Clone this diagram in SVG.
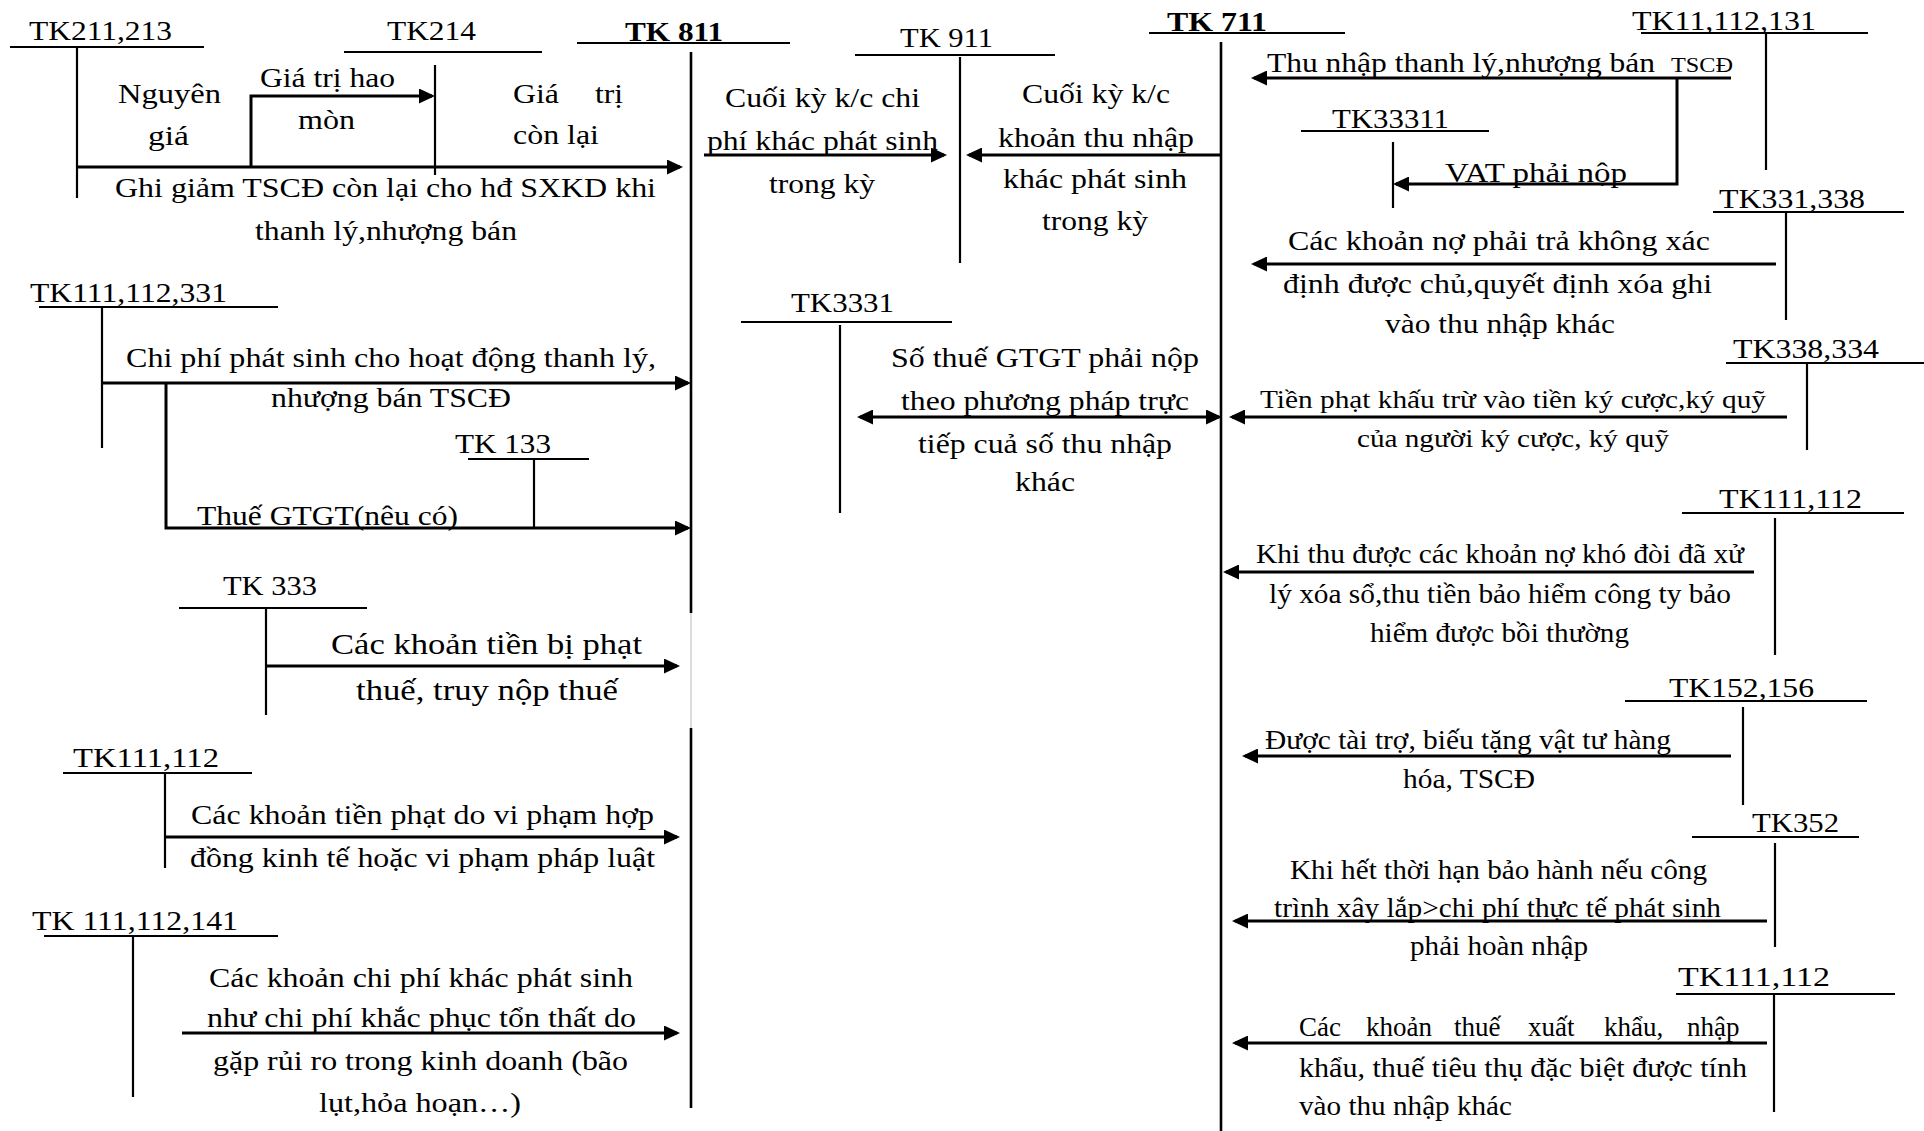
<svg xmlns="http://www.w3.org/2000/svg" width="1924" height="1131" viewBox="0 0 1924 1131">
  <defs>
    <marker id="arr" markerUnits="userSpaceOnUse" markerWidth="16" markerHeight="15" refX="13" refY="7.5" orient="auto-start-reverse">
      <path d="M0,0 L16,7.5 L0,15 z" fill="#000"/>
    </marker>
    <style>
      text { font-family: "Liberation Serif", "Times New Roman", serif; font-size: 27px; fill: #000; }
      .s { font-size: 25px; }
      .l { font-size: 30px; }
      .sm { font-size: 20px; }
      .b { font-weight: bold; }
      .acc { stroke: #000; stroke-width: 2.2; fill: none; }
      .main { stroke: #000; stroke-width: 2.6; fill: none; }
      .flow { stroke: #000; stroke-width: 3; fill: none; marker-end: url(#arr); }
    </style>
  </defs>
  <rect width="1924" height="1131" fill="#fff"/>

  <!-- main accounts -->
  <g id="tk811">
    <text class="b" x="625" y="41" textLength="98" lengthAdjust="spacingAndGlyphs">TK 811</text>
    <line class="acc" x1="577" y1="43" x2="790" y2="43"/>
    <line class="main" x1="691" y1="52" x2="691" y2="613"/>
    <line stroke="#bbb" stroke-width="1" x1="691" y1="613" x2="691" y2="728"/>
    <line class="main" x1="691" y1="728" x2="691" y2="1108"/>
  </g>
  <g id="tk911">
    <text x="900" y="47" textLength="93" lengthAdjust="spacingAndGlyphs">TK 911</text>
    <line class="acc" x1="855" y1="55" x2="1055" y2="55"/>
    <line class="acc" x1="960" y1="57" x2="960" y2="263"/>
  </g>
  <g id="tk711">
    <text class="b" x="1167" y="31" textLength="100" lengthAdjust="spacingAndGlyphs">TK 711</text>
    <line class="acc" x1="1149" y1="33" x2="1345" y2="33"/>
    <line class="main" x1="1221" y1="42" x2="1221" y2="1131"/>
  </g>

  <!-- left side accounts -->
  <g id="tk211">
    <text x="29" y="40" textLength="143" lengthAdjust="spacingAndGlyphs">TK211,213</text>
    <line class="acc" x1="10" y1="47" x2="204" y2="47"/>
    <line class="acc" x1="77" y1="47" x2="77" y2="198"/>
  </g>
  <g id="tk214">
    <text x="387" y="40" textLength="89" lengthAdjust="spacingAndGlyphs">TK214</text>
    <line class="acc" x1="344" y1="52" x2="542" y2="52"/>
    <line class="acc" x1="435" y1="65" x2="435" y2="175"/>
  </g>
  <g id="tk111-112-331">
    <text x="30" y="302" textLength="197" lengthAdjust="spacingAndGlyphs">TK111,112,331</text>
    <line class="acc" x1="39" y1="307" x2="278" y2="307"/>
    <line class="acc" x1="102" y1="307" x2="102" y2="448"/>
  </g>
  <g id="tk133">
    <text x="455" y="453" textLength="96" lengthAdjust="spacingAndGlyphs">TK 133</text>
    <line class="acc" x1="468" y1="459" x2="589" y2="459"/>
    <line class="acc" x1="534" y1="459" x2="534" y2="528"/>
  </g>
  <g id="tk333">
    <text x="223" y="595" textLength="94" lengthAdjust="spacingAndGlyphs">TK 333</text>
    <line class="acc" x1="179" y1="608" x2="367" y2="608"/>
    <line class="acc" x1="266" y1="608" x2="266" y2="715"/>
  </g>
  <g id="tk111-112-left">
    <text x="73" y="767" textLength="146" lengthAdjust="spacingAndGlyphs">TK111,112</text>
    <line class="acc" x1="63" y1="773" x2="252" y2="773"/>
    <line class="acc" x1="165" y1="773" x2="165" y2="868"/>
  </g>
  <g id="tk111-112-141">
    <text x="32" y="930" textLength="206" lengthAdjust="spacingAndGlyphs">TK 111,112,141</text>
    <line class="acc" x1="44" y1="936" x2="278" y2="936"/>
    <line class="acc" x1="133" y1="936" x2="133" y2="1097"/>
  </g>
  <g id="tk3331">
    <text x="791" y="312" textLength="103" lengthAdjust="spacingAndGlyphs">TK3331</text>
    <line class="acc" x1="741" y1="322" x2="952" y2="322"/>
    <line class="acc" x1="840" y1="325" x2="840" y2="513"/>
  </g>

  <!-- right side accounts -->
  <g id="tk11-112-131">
    <text x="1632" y="30" textLength="184" lengthAdjust="spacingAndGlyphs">TK11,112,131</text>
    <line class="acc" x1="1641" y1="33" x2="1868" y2="33"/>
    <line class="acc" x1="1766" y1="33" x2="1766" y2="170"/>
  </g>
  <g id="tk33311">
    <text x="1332" y="128" textLength="117" lengthAdjust="spacingAndGlyphs">TK33311</text>
    <line class="acc" x1="1301" y1="131" x2="1489" y2="131"/>
    <line class="acc" x1="1393" y1="142" x2="1393" y2="208"/>
  </g>
  <g id="tk331-338">
    <text x="1719" y="208" textLength="146" lengthAdjust="spacingAndGlyphs">TK331,338</text>
    <line class="acc" x1="1713" y1="212" x2="1904" y2="212"/>
    <line class="acc" x1="1786" y1="212" x2="1786" y2="320"/>
  </g>
  <g id="tk338-334">
    <text x="1733" y="358" textLength="146" lengthAdjust="spacingAndGlyphs">TK338,334</text>
    <line class="acc" x1="1726" y1="363" x2="1924" y2="363"/>
    <line class="acc" x1="1807" y1="363" x2="1807" y2="450"/>
  </g>
  <g id="tk111-112-r1">
    <text x="1719" y="508" textLength="143" lengthAdjust="spacingAndGlyphs">TK111,112</text>
    <line class="acc" x1="1682" y1="513" x2="1904" y2="513"/>
    <line class="acc" x1="1775" y1="518" x2="1775" y2="655"/>
  </g>
  <g id="tk152-156">
    <text x="1669" y="697" textLength="145" lengthAdjust="spacingAndGlyphs">TK152,156</text>
    <line class="acc" x1="1625" y1="701" x2="1867" y2="701"/>
    <line class="acc" x1="1743" y1="707" x2="1743" y2="805"/>
  </g>
  <g id="tk352">
    <text x="1752" y="832" textLength="87" lengthAdjust="spacingAndGlyphs">TK352</text>
    <line class="acc" x1="1692" y1="837" x2="1859" y2="837"/>
    <line class="acc" x1="1775" y1="843" x2="1775" y2="947"/>
  </g>
  <g id="tk111-112-r2">
    <text x="1678" y="986" textLength="152" lengthAdjust="spacingAndGlyphs">TK111,112</text>
    <line class="acc" x1="1676" y1="994" x2="1895" y2="994"/>
    <line class="acc" x1="1774" y1="994" x2="1774" y2="1112"/>
  </g>

  <!-- entries -->
  <g id="connectors">
    <line class="flow" x1="77" y1="167" x2="680" y2="167"/>
    <polyline class="flow" points="251,167 251,96 432,96"/>
    <line class="flow" x1="704" y1="155" x2="944" y2="155"/>
    <line class="flow" x1="1221" y1="155" x2="969" y2="155"/>
    <line class="flow" x1="1731" y1="78" x2="1254" y2="78"/>
    <polyline class="flow" points="1677,78 1677,184 1396,184"/>
    <line class="flow" x1="1776" y1="264" x2="1254" y2="264"/>
    <line class="flow" x1="860" y1="417" x2="1219" y2="417" marker-start="url(#arr)"/>
    <line class="flow" x1="1787" y1="417" x2="1232" y2="417"/>
    <line class="flow" x1="1754" y1="572" x2="1226" y2="572"/>
    <line class="flow" x1="1731" y1="756" x2="1245" y2="756"/>
    <line class="flow" x1="1767" y1="921" x2="1235" y2="921"/>
    <line class="flow" x1="1767" y1="1043" x2="1235" y2="1043"/>
    <line class="flow" x1="102" y1="383" x2="688" y2="383"/>
    <polyline class="flow" points="166,383 166,528 688,528"/>
    <line class="flow" x1="266" y1="666" x2="677" y2="666"/>
    <line class="flow" x1="165" y1="837" x2="677" y2="837"/>
    <line class="flow" x1="182" y1="1033" x2="677" y2="1033"/>
  </g>

  <!-- entry labels -->
  <g id="labels">
    <text x="118" y="103" textLength="103" lengthAdjust="spacingAndGlyphs">Nguyên</text>
    <text x="148" y="145" textLength="41" lengthAdjust="spacingAndGlyphs">giá</text>
    <text x="260" y="87" textLength="135" lengthAdjust="spacingAndGlyphs">Giá trị hao</text>
    <text x="298" y="129" textLength="57" lengthAdjust="spacingAndGlyphs">mòn</text>
    <text x="513" y="103" textLength="46" lengthAdjust="spacingAndGlyphs">Giá</text>
    <text x="595" y="103" textLength="28" lengthAdjust="spacingAndGlyphs">trị</text>
    <text x="513" y="144" textLength="86" lengthAdjust="spacingAndGlyphs">còn lại</text>
    <text x="115" y="197" textLength="541" lengthAdjust="spacingAndGlyphs">Ghi giảm TSCĐ còn lại cho hđ SXKD khi</text>
    <text x="255" y="240" textLength="262" lengthAdjust="spacingAndGlyphs">thanh lý,nhượng bán</text>

    <text x="725" y="107" textLength="195" lengthAdjust="spacingAndGlyphs">Cuối kỳ k/c chi</text>
    <text x="707" y="150" textLength="231" lengthAdjust="spacingAndGlyphs">phí khác phát sinh</text>
    <text x="769" y="193" textLength="106" lengthAdjust="spacingAndGlyphs">trong kỳ</text>
    <text x="1022" y="103" textLength="148" lengthAdjust="spacingAndGlyphs">Cuối kỳ k/c</text>
    <text x="998" y="147" textLength="196" lengthAdjust="spacingAndGlyphs">khoản thu nhập</text>
    <text x="1003" y="188" textLength="184" lengthAdjust="spacingAndGlyphs">khác phát sinh</text>
    <text x="1042" y="230" textLength="106" lengthAdjust="spacingAndGlyphs">trong kỳ</text>

    <text x="1267" y="72" textLength="388" lengthAdjust="spacingAndGlyphs">Thu nhập thanh lý,nhượng bán</text>
    <text class="sm" x="1671" y="72" textLength="62" lengthAdjust="spacingAndGlyphs">TSCĐ</text>
    <text x="1445" y="182" textLength="182" lengthAdjust="spacingAndGlyphs">VAT phải nộp</text>
    <text x="1288" y="250" textLength="422" lengthAdjust="spacingAndGlyphs">Các khoản nợ phải trả không xác</text>
    <text x="1283" y="293" textLength="429" lengthAdjust="spacingAndGlyphs">định được chủ,quyết định xóa ghi</text>
    <text x="1385" y="333" textLength="230" lengthAdjust="spacingAndGlyphs">vào thu nhập khác</text>
    <text class="s" x="1260" y="408" textLength="506" lengthAdjust="spacingAndGlyphs">Tiền phạt khấu trừ vào tiền ký cược,ký quỹ</text>
    <text class="s" x="1357" y="447" textLength="312" lengthAdjust="spacingAndGlyphs">của người ký cược, ký quỹ</text>
    <text x="1256" y="563" textLength="488" lengthAdjust="spacingAndGlyphs">Khi thu được các khoản nợ khó đòi đã xử</text>
    <text x="1269" y="603" textLength="462" lengthAdjust="spacingAndGlyphs">lý xóa sổ,thu tiền bảo hiểm công ty bảo</text>
    <text x="1370" y="642" textLength="259" lengthAdjust="spacingAndGlyphs">hiểm được bồi thường</text>
    <text x="1265" y="749" textLength="406" lengthAdjust="spacingAndGlyphs">Được tài trợ, biếu tặng vật tư hàng</text>
    <text x="1403" y="788" textLength="132" lengthAdjust="spacingAndGlyphs">hóa, TSCĐ</text>
    <text x="1290" y="879" textLength="417" lengthAdjust="spacingAndGlyphs">Khi hết thời hạn bảo hành nếu công</text>
    <text x="1274" y="917" textLength="447" lengthAdjust="spacingAndGlyphs">trình xây lắp&gt;chi phí thực tế phát sinh</text>
    <text x="1410" y="955" textLength="178" lengthAdjust="spacingAndGlyphs">phải hoàn nhập</text>
    <text y="1036"><tspan x="1299">Các</tspan><tspan x="1366">khoản</tspan><tspan x="1454">thuế</tspan><tspan x="1528">xuất</tspan><tspan x="1604">khẩu,</tspan><tspan x="1687">nhập</tspan></text>
    <text x="1299" y="1077" textLength="448" lengthAdjust="spacingAndGlyphs">khẩu, thuế tiêu thụ đặc biệt được tính</text>
    <text x="1299" y="1115" textLength="213" lengthAdjust="spacingAndGlyphs">vào thu nhập khác</text>

    <text x="891" y="367" textLength="308" lengthAdjust="spacingAndGlyphs">Số thuế GTGT phải nộp</text>
    <text x="901" y="410" textLength="288" lengthAdjust="spacingAndGlyphs">theo phương pháp trực</text>
    <text x="918" y="453" textLength="254" lengthAdjust="spacingAndGlyphs">tiếp cuả số thu nhập</text>
    <text x="1015" y="491" textLength="60" lengthAdjust="spacingAndGlyphs">khác</text>

    <text x="126" y="367" textLength="530" lengthAdjust="spacingAndGlyphs">Chi phí phát sinh cho hoạt động thanh lý,</text>
    <text x="271" y="407" textLength="240" lengthAdjust="spacingAndGlyphs">nhượng bán TSCĐ</text>
    <text x="197" y="525" textLength="261" lengthAdjust="spacingAndGlyphs">Thuế GTGT(nêu có)</text>
    <text class="l" x="331" y="654" textLength="311" lengthAdjust="spacingAndGlyphs">Các khoản tiền bị phạt</text>
    <text class="l" x="356" y="700" textLength="262" lengthAdjust="spacingAndGlyphs">thuế, truy nộp thuế</text>
    <text x="191" y="824" textLength="463" lengthAdjust="spacingAndGlyphs">Các khoản tiền phạt do vi phạm hợp</text>
    <text x="190" y="867" textLength="465" lengthAdjust="spacingAndGlyphs">đồng kinh tế hoặc vi phạm pháp luật</text>
    <text x="209" y="987" textLength="424" lengthAdjust="spacingAndGlyphs">Các khoản chi phí khác phát sinh</text>
    <text x="207" y="1027" textLength="429" lengthAdjust="spacingAndGlyphs">như chi phí khắc phục tổn thất do</text>
    <text x="213" y="1070" textLength="415" lengthAdjust="spacingAndGlyphs">gặp rủi ro trong kinh doanh (bão</text>
    <text x="319" y="1112" textLength="202" lengthAdjust="spacingAndGlyphs">lụt,hỏa hoạn…)</text>
  </g>
</svg>
